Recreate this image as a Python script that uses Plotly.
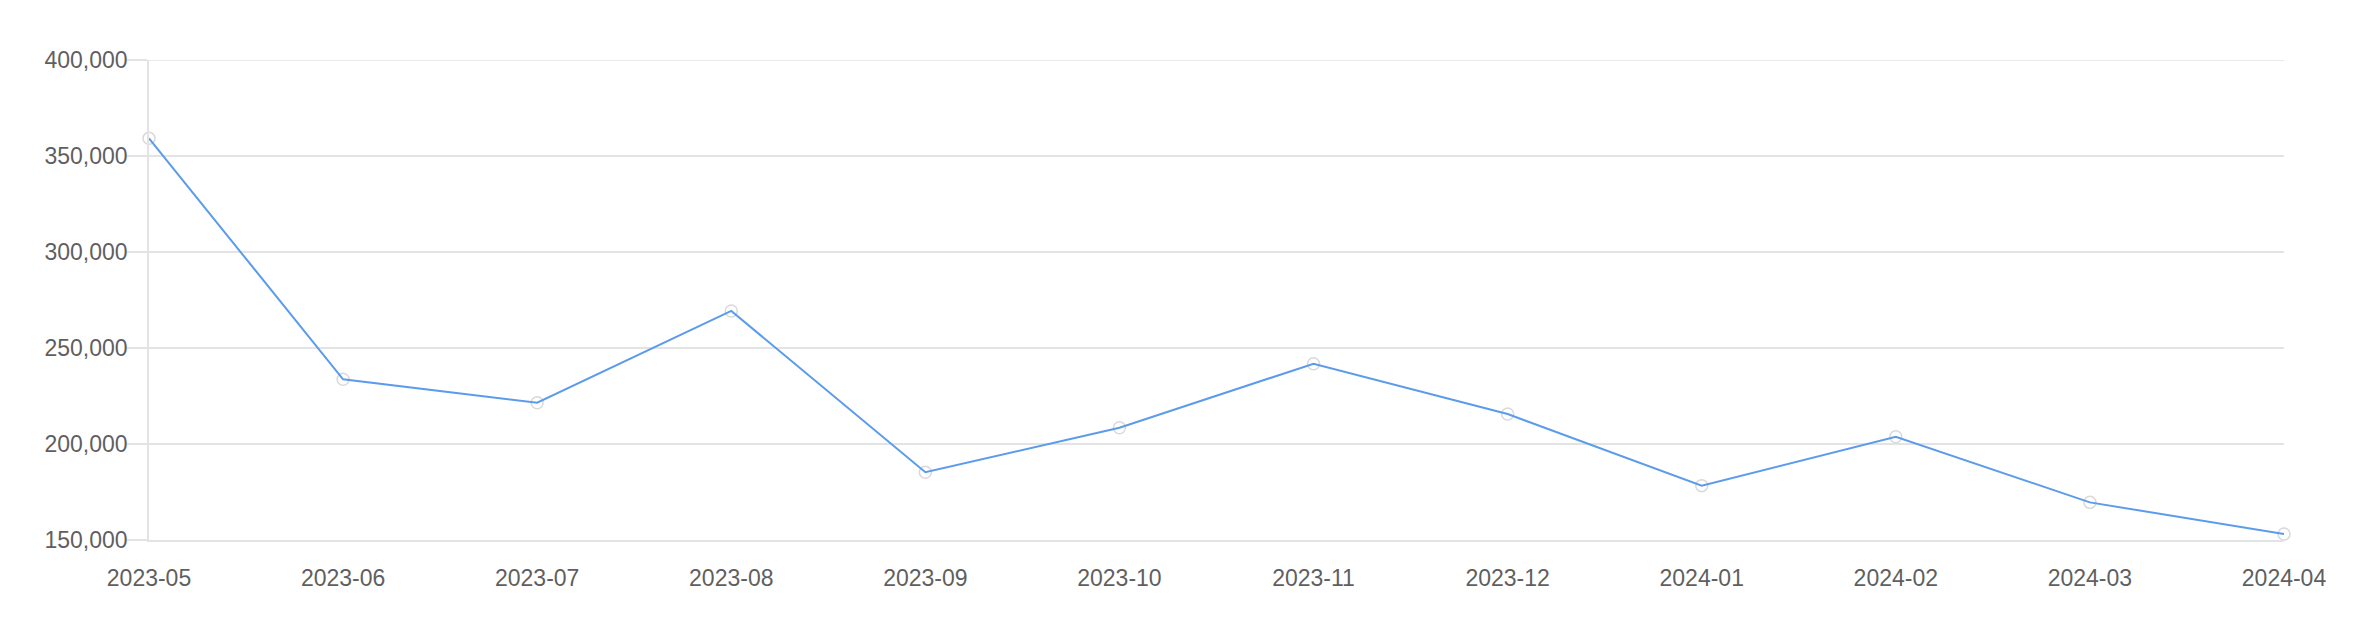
import plotly.graph_objects as go

months = ["2023-05", "2023-06", "2023-07", "2023-08", "2023-09", "2023-10",
          "2023-11", "2023-12", "2024-01", "2024-02", "2024-03", "2024-04"]
values = [359200, 233700, 221500, 269300, 185300, 208500,
          241800, 215600, 178300, 203800, 169600, 153100]
y_ticks = [150000, 200000, 250000, 300000, 350000, 400000]

GRID = "#e3e3e3"
TEXT = "#5f5f5f"
FONT = "Liberation Sans, Helvetica, Arial, sans-serif"

fig = go.Figure()
fig.add_trace(go.Scatter(
    x=months, y=values, mode="markers",
    marker=dict(size=12, color="white", line=dict(color="#d9d9d9", width=1.5)),
    cliponaxis=False, hoverinfo="skip", showlegend=False,
))
fig.add_trace(go.Scatter(
    x=months, y=values, mode="lines",
    line=dict(color="#5b9bec", width=2),
    cliponaxis=False, showlegend=False,
))

# top gridline (plotly skips a gridline at the very edge of the range)
fig.add_shape(type="line", xref="paper", x0=0, x1=1, yref="y",
              y0=y_ticks[-1], y1=y_ticks[-1],
              line=dict(color=GRID, width=1.5), layer="below")

fig.update_layout(
    width=2358, height=640,
    margin=dict(l=141, r=82, t=52, b=108),
    paper_bgcolor="white", plot_bgcolor="white",
    font=dict(family=FONT, size=23, color=TEXT),
    xaxis=dict(
        type="category", range=[0, len(months) - 1],
        showgrid=False, zeroline=False,
        showline=True, linecolor=GRID, linewidth=1.5,
        ticks="", ticklabelstandoff=17,
        tickfont=dict(family=FONT, size=23, color=TEXT),
    ),
    yaxis=dict(
        range=[150000, 400000], tickvals=y_ticks, tickformat=",",
        showgrid=True, gridcolor=GRID, gridwidth=1.5,
        zeroline=False,
        showline=True, linecolor=GRID, linewidth=1.5,
        ticks="outside", ticklen=20, tickcolor=GRID, tickwidth=1.5,
        ticklabelstandoff=-5,
        tickfont=dict(family=FONT, size=23, color=TEXT),
    ),
)

fig.write_html("out.html")
